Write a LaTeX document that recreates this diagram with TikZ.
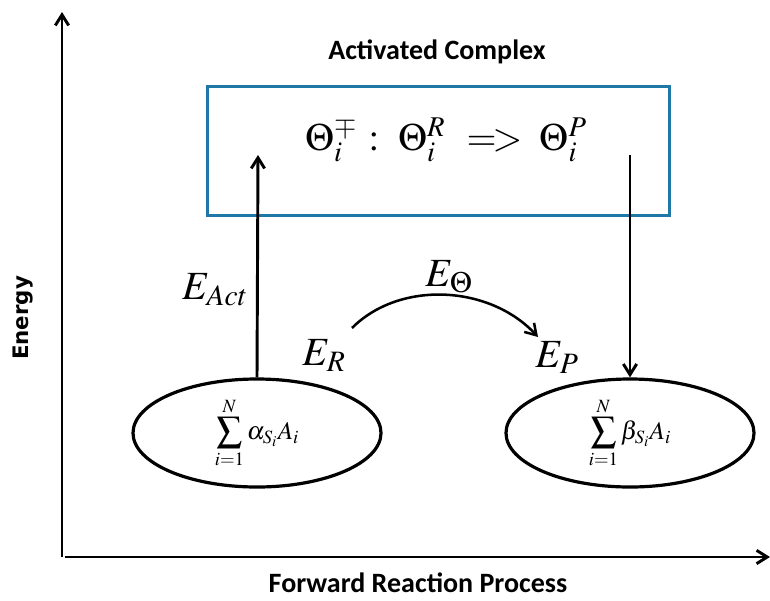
\documentclass[tikz,border=0pt]{standalone}
\usepackage{mathptmx}
\usepackage[no-math]{fontspec}
\setsansfont{Carlito}
\newfontfamily\energyfont{DejaVu Sans}
\usetikzlibrary{shapes.geometric,arrows.meta}
\definecolor{complexblue}{RGB}{31,120,165}
\tikzset{
  axislabel/.style={font=\sffamily\bfseries\fontsize{21}{24}\selectfont},
  elabel/.style={font=\fontsize{30}{34}\selectfont},
  species/.style={draw, line width=2.4pt, ellipse, minimum width=186pt, minimum height=81pt, inner sep=0pt},
  flow/.style={-{Straight Barb[length=8pt, width=10pt]}, line width=2.2pt}
}
\begin{document}
\begin{tikzpicture}[x=0.75pt, y=-0.75pt]
			%%%%% START %%%%%
			\useasboundingbox (0, 0) rectangle (770, 600);
			
			% axes
			\coordinate (origin) at (62, 557);
			\coordinate (ytop) at (62, 12);
			\coordinate (xend) at (770, 557);
			\draw[flow] (origin) -- (ytop);
			\draw[flow] ([xshift=2pt]origin) -- (xend);
			\node[font=\energyfont\bfseries\fontsize{16}{18}\selectfont, rotate=90] (energy) at (23, 318) {Energy};
			\node[axislabel] (process) at (418, 583) {Forward Reaction Process};
			
			% activated complex
			\node[axislabel] (actlabel) at (437, 52) {Activated Complex};
			\node[draw=complexblue, line width=2.4pt, minimum width=346pt, minimum height=97pt] (complex) at (438.5, 151) {};
			\node[font=\fontsize{29}{33}\selectfont] (formula) at (446, 140) {$\Theta_i^{\mp}\hspace{0.3em}{:}\hspace{0.5em}\Theta_i^{R}\hspace{0.55em}{=}\mkern-2mu{>}\hspace{0.45em}\Theta_i^{P}$};
			
			% reactants and products
			\node[species] (reactants) at (257, 433) {\fontsize{19}{22}\selectfont$\displaystyle\sum_{i=1}^{N}\alpha_{S_i}A_i$};
			\node[species] (products) at (630, 433) {\fontsize{19}{22}\selectfont$\displaystyle\sum_{i=1}^{N}\beta_{S_i}A_i$};
			
			\coordinate (acttop) at (258, 155);
			\coordinate (prodtop) at (630, 155);
			\draw[flow] (reactants.north) -- (acttop);
			\draw[flow] (prodtop) -- (products.north);
			
			% energies
			\node[elabel] (eact) at (215, 290) {$E_{Act}$};
			\node[elabel] (er) at (324, 356) {$E_R$};
			\node[elabel] (ep) at (557, 358) {$E_P$};
			\node[elabel] (etheta) at (449, 277) {$E_\Theta$};
			\coordinate (erout) at (352, 328);
			\coordinate (epin) at (538, 337);
			\draw[flow, line width=1.9pt] (erout) .. controls (400, 280) and (490, 285) .. (epin);
			
			%%%%% END %%%%%
		\end{tikzpicture}
\end{document}
